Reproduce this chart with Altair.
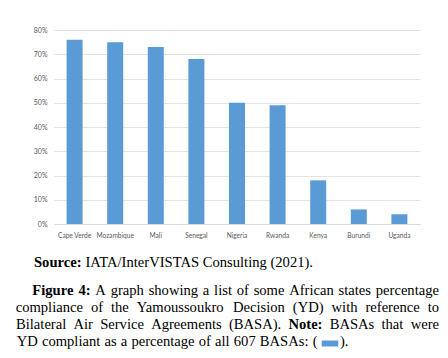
import altair as alt
import pandas as pd

# ---- data ----
countries = ["Cape Verde", "Mozambique", "Mali", "Senegal", "Nigeria",
             "Rwanda", "Kenya", "Burundi", "Uganda"]
compliance = [76, 75, 73, 68, 50, 49, 18, 6, 4]
y_ticks = [0, 10, 20, 30, 40, 50, 60, 70, 80]

source_line = [("Source: ", True), ("IATA/InterVISTAS Consulting (2021).", False)]
cap_line1 = [("Figure", True), ("4:", True), ("A", False), ("graph", False), ("showing", False), ("a", False),
             ("list", False), ("of", False), ("some", False), ("African", False), ("states", False),
             ("percentage", False)]
cap_line2 = [(w, False) for w in "compliance of the Yamoussoukro Decision (YD) with reference to".split()]
cap_line3 = [("Bilateral", False), ("Air", False), ("Service", False), ("Agreements", False),
             ("(BASA).", False), ("Note:", True), ("BASAs", False), ("that", False), ("were", False)]
cap_line4 = [(w, False) for w in "YD compliant as a percentage of all 607 BASAs: (".split()]
cap_line4_end = ")."

BLUE = "#5b9bd5"
W, H = 366, 194
PAD_L, PAD_T = 46, 22
FS = 14.6

# Times metrics (per 1000 em) for laying out justified caption lines
REG = dict(zip(" ().,/:0123456789", [250, 333, 333, 250, 250, 278, 278] + [500] * 10))
REG.update(dict(zip("ABCDEFGHIJKLMNOPQRSTUVWXYZ",
                    [722, 667, 667, 722, 611, 556, 722, 722, 333, 389, 722, 611, 889, 722, 722, 556,
                     722, 667, 556, 611, 722, 722, 944, 722, 722, 611])))
REG.update(dict(zip("abcdefghijklmnopqrstuvwxyz",
                    [444, 500, 444, 500, 444, 333, 500, 500, 278, 278, 500, 278, 778, 500, 500, 500,
                     500, 333, 389, 278, 500, 500, 722, 500, 500, 444])))
BOLD = dict(REG)
BOLD.update({":": 333, "F": 611, "N": 722, "S": 556, "a": 500, "c": 444, "e": 444, "g": 500,
             "i": 278, "o": 500, "r": 444, "t": 333, "u": 556})


def width(text, bold):
    table = BOLD if bold else REG
    return sum(table.get(ch, 500) for ch in text) * FS / 1000.0


def row(t, x, baseline, b):
    return {"t": t, "px": x - 8 - PAD_L, "py": baseline - 8 - PAD_T, "b": "bold" if b else "normal"}


def justify(words, left, right, baseline):
    widths = [width(t, b) for t, b in words]
    gap = (right - left - sum(widths)) / (len(words) - 1)
    rows, x = [], left
    for (t, b), w in zip(words, widths):
        rows.append(row(t, x, baseline, b))
        x += w + gap
    return rows


def natural(segments, left, baseline):
    rows, x = [], left
    for t, b in segments:
        rows.append(row(t, x, baseline, b))
        x += width(t, b)
    return rows


rows = []
rows += natural(source_line, 34, 266.7)
rows += justify(cap_line1, 32.3, 439, 295)
rows += justify(cap_line2, 15.7, 439, 311.7)
rows += justify(cap_line3, 16, 439, 329)
rows += justify(cap_line4, 16.7, 317.5, 346.2)
rows.append(row(cap_line4_end, 340, 346.2, False))
words_df = pd.DataFrame(rows)

df = pd.DataFrame({"country": countries, "value": compliance})

LABEL_FONT = "Lato"

bars = alt.Chart(df).mark_bar(color=BLUE).encode(
    x=alt.X("country:N", sort=countries, title=None,
            scale=alt.Scale(paddingInner=0.606, paddingOuter=0.31),
            axis=alt.Axis(labelAngle=0, ticks=False, domainColor="#d9d9d9", labelColor="#595959",
                          labelFont=LABEL_FONT, labelFontSize=6.6, labelPadding=8, grid=False)),
    y=alt.Y("value:Q", title=None, scale=alt.Scale(domain=[0, 80], nice=False),
            axis=alt.Axis(values=y_ticks, labelExpr="datum.value + '%'", ticks=False, domain=False,
                          gridColor="#e3e3e3", labelColor="#595959", labelFont=LABEL_FONT,
                          labelFontSize=7, labelPadding=7)),
)

reg_text = alt.Chart(words_df).transform_filter("datum.b == 'normal'").mark_text(
    align="left", baseline="alphabetic", font="Liberation Serif", fontSize=FS, color="#000000"
).encode(x=alt.X("px:Q", scale=None), y=alt.Y("py:Q", scale=None), text="t:N")

bold_text = alt.Chart(words_df).transform_filter("datum.b == 'bold'").mark_text(
    align="left", baseline="alphabetic", font="Liberation Serif", fontSize=FS, fontWeight="bold",
    color="#000000"
).encode(x=alt.X("px:Q", scale=None), y=alt.Y("py:Q", scale=None), text="t:N")

swatch = alt.Chart(pd.DataFrame({"k": [0]})).mark_rect(color=BLUE).encode(
    x=alt.value(321.7 - 8 - PAD_L), x2=alt.value(338.3 - 8 - PAD_L),
    y=alt.value(340.5 - 8 - PAD_T), y2=alt.value(346.5 - 8 - PAD_T))

chart = alt.layer(bars, reg_text, bold_text, swatch).resolve_scale(
    x="independent", y="independent"
).properties(
    width=W, height=H,
    autosize=alt.AutoSizeParams(type="none"),
    padding={"left": PAD_L, "top": PAD_T, "right": 20, "bottom": 126},
).configure_view(stroke=None)

chart.save("out.html", embed_options={"renderer": "svg", "actions": False})
